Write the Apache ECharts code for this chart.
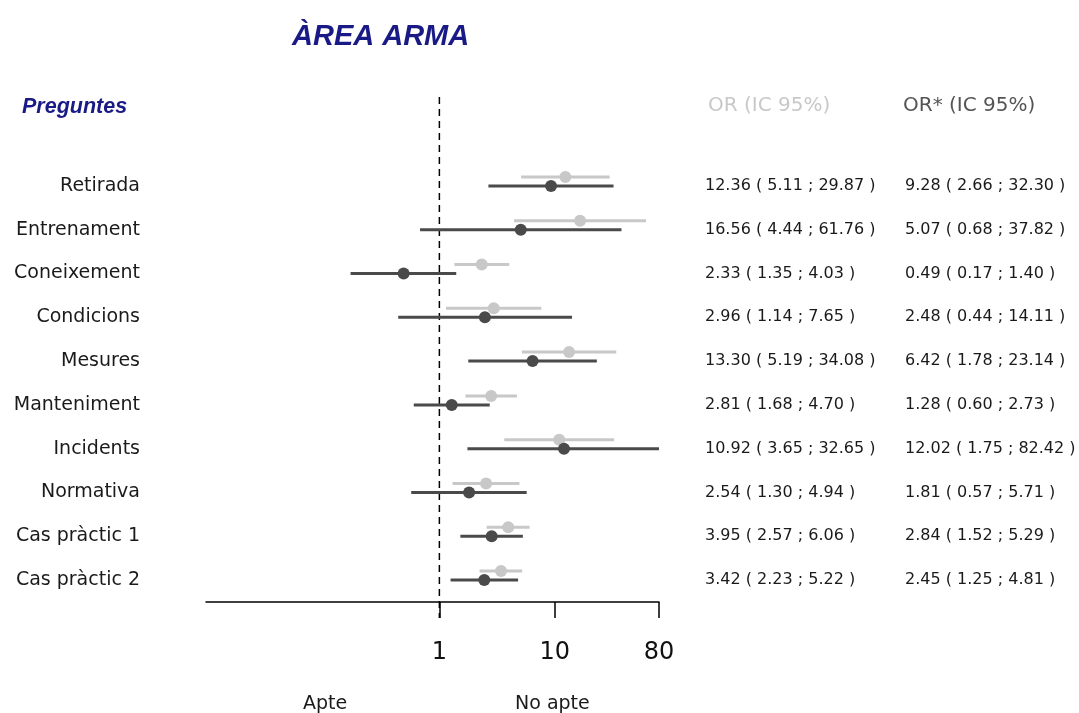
<!DOCTYPE html>
<html>
<head>
<meta charset="utf-8">
<script src="https://cdn.jsdelivr.net/npm/echarts@6/dist/echarts.min.js"></script>
<style>
html,body{margin:0;padding:0;background:#fff;}
#chart{width:1079px;height:713px;}
</style>
</head>
<body>
<div id="chart"></div>
<script>
const categories = ['Retirada','Entrenament','Coneixement','Condicions','Mesures','Manteniment','Incidents','Normativa','Cas pràctic 1','Cas pràctic 2'];
const orEst    = [12.36,16.56,2.33,2.96,13.30,2.81,10.92,2.54,3.95,3.42];
const orLow    = [5.11,4.44,1.35,1.14,5.19,1.68,3.65,1.30,2.57,2.23];
const orHigh   = [29.87,61.76,4.03,7.65,34.08,4.70,32.65,4.94,6.06,5.22];
const orAdjEst  = [9.28,5.07,0.49,2.48,6.42,1.28,12.02,1.81,2.84,2.45];
const orAdjLow  = [2.66,0.68,0.17,0.44,1.78,0.60,1.75,0.57,1.52,1.25];
const orAdjHigh = [32.30,37.82,1.40,14.11,23.14,2.73,82.42,5.71,5.29,4.81];
const xTickValues = [1,10,80];
const refValue = 1;

const FONT = '"DejaVu Sans", Verdana, sans-serif';
const FONT_B = '"Liberation Sans", Arial, sans-serif';
const LIGHT = '#c8c8c8';
const DARK = '#4a4a4a';
const NAVY = '#1a1a86';

function fmt(e, l, h){ return e.toFixed(2) + ' ( ' + l.toFixed(2) + ' ; ' + h.toFixed(2) + ' )'; }

const lightData = categories.map((c,i)=>[orLow[i], orHigh[i], orEst[i], i]);
const darkData  = categories.map((c,i)=>[orAdjLow[i], orAdjHigh[i], orAdjEst[i], i]);

function makeRender(dy, color){
  return function(params, api){
    const idx = api.value(3);
    const p1 = api.coord([api.value(0), idx]);
    const p2 = api.coord([api.value(1), idx]);
    const pe = api.coord([api.value(2), idx]);
    return {
      type: 'group',
      children: [
        {type:'line', shape:{x1:p1[0], y1:p1[1]+dy, x2:p2[0], y2:p2[1]+dy},
         style:{stroke:color, lineWidth:3}},
        {type:'circle', shape:{cx:pe[0], cy:pe[1]+dy, r:6},
         style:{fill:color}}
      ]
    };
  };
}

const chart = echarts.init(document.getElementById('chart'));
chart.setOption({
  animation: false,
  backgroundColor: '#fff',
  grid: {left: 206, right: 420, top: 164, bottom: 111, containLabel: false},
  xAxis: {
    type: 'log', logBase: 10, min: 0.0095, max: 80,
    axisLine: {show: true, lineStyle: {color: '#000', width: 1.5}},
    axisTick: {show: true, customValues: xTickValues, length: 16, lineStyle: {color: '#000', width: 1.5}},
    axisLabel: {customValues: xTickValues, fontSize: 24, color: '#111', fontFamily: FONT, margin: 39,
      formatter: v => String(Math.round(v))},
    splitLine: {show: false}
  },
  yAxis: [
    {type: 'category', data: categories, inverse: true,
     axisLine: {show: false}, axisTick: {show: false}, splitLine: {show: false},
     axisLabel: {fontSize: 19, color: '#1a1a1a', fontFamily: FONT, margin: 66}},
    {type: 'category', data: categories, inverse: true, position: 'right', offset: 46,
     axisLine: {show: false}, axisTick: {show: false}, splitLine: {show: false},
     axisLabel: {fontSize: 16, color: '#1a1a1a', fontFamily: FONT, margin: 0, align: 'left',
       formatter: (v, i) => fmt(orEst[i], orLow[i], orHigh[i])}},
    {type: 'category', data: categories, inverse: true, position: 'right', offset: 246,
     axisLine: {show: false}, axisTick: {show: false}, splitLine: {show: false},
     axisLabel: {fontSize: 16, color: '#1a1a1a', fontFamily: FONT, margin: 0, align: 'left',
       formatter: (v, i) => fmt(orAdjEst[i], orAdjLow[i], orAdjHigh[i])}}
  ],
  graphic: [
    {type:'text', left: 292, top: 22, style:{text:'ÀREA ARMA', font:'italic bold 29px ' + FONT_B, fill: NAVY}},
    {type:'text', left: 22, top: 96, style:{text:'Preguntes', font:'italic bold 21.5px ' + FONT_B, fill: NAVY}},
    {type:'text', left: 708, top: 96, style:{text:'OR (IC 95%)', font:'20px ' + FONT, fill: LIGHT}},
    {type:'text', left: 903, top: 96, style:{text:'OR* (IC 95%)', font:'20px ' + FONT, fill: '#555'}},
    {type:'text', left: 303, top: 695, style:{text:'Apte', font:'19px ' + FONT, fill: '#1a1a1a'}},
    {type:'text', left: 515, top: 695, style:{text:'No apte', font:'19px ' + FONT, fill: '#1a1a1a'}}
  ],
  series: [
    {type: 'custom', name: 'ref', clip: false, z: 1,
     data: [[refValue, 0]],
     encode: {x: 0, y: 1},
     renderItem: function(params, api){
       const p = api.coord([api.value(0), 0]);
       const cs = params.coordSys;
       return {type:'line', shape:{x1:p[0], y1:cs.y - 67, x2:p[0], y2:cs.y + cs.height + 16},
               style:{stroke:'#000', lineWidth:1.5, lineDash:[7,5]}};
     }},
    {type: 'custom', name: 'OR', clip: true, z: 2, data: lightData,
     encode: {x: [0,1,2], y: 3}, renderItem: makeRender(-9, LIGHT)},
    {type: 'custom', name: 'OR*', clip: true, z: 3, data: darkData,
     encode: {x: [0,1,2], y: 3}, renderItem: makeRender(0, DARK)}
  ]
});
</script>
</body>
</html>
